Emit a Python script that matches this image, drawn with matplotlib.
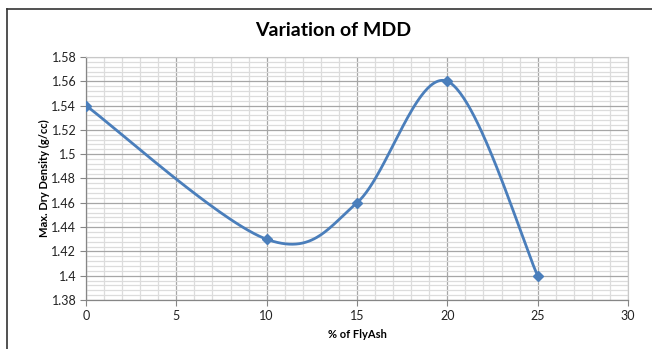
import numpy as np
import matplotlib
matplotlib.use('Agg')
import matplotlib.pyplot as plt
from matplotlib.lines import Line2D
from matplotlib.ticker import MultipleLocator

# data
fly_ash = [0, 10, 15, 20, 25]
mdd = [1.54, 1.43, 1.46, 1.56, 1.40]
x_ticks = [0, 5, 10, 15, 20, 25, 30]
y_ticks = [1.38, 1.40, 1.42, 1.44, 1.46, 1.48, 1.50, 1.52, 1.54, 1.56, 1.58]
y_tick_labels = ['1.38', '1.4', '1.42', '1.44', '1.46', '1.48', '1.5', '1.52', '1.54', '1.56', '1.58']

plt.rcParams['font.family'] = ['Lato', 'DejaVu Sans']


def smooth_line(xs, ys, n=60):
    # Excel-style smoothed line: Catmull-Rom segments as cubic Bezier
    pts = np.column_stack([xs, ys]).astype(float)
    ext = np.vstack([pts[0], pts, pts[-1]])
    out = []
    t = np.linspace(0, 1, n)[:, None]
    for i in range(1, len(ext) - 2):
        p0, p1, p2, p3 = ext[i - 1], ext[i], ext[i + 1], ext[i + 2]
        c1 = p1 + (p2 - p0) / 6
        c2 = p2 - (p3 - p1) / 6
        seg = ((1 - t) ** 3) * p1 + 3 * ((1 - t) ** 2) * t * c1 + 3 * (1 - t) * t ** 2 * c2 + t ** 3 * p2
        out.append(seg if i == 1 else seg[1:])
    out = np.vstack(out)
    return out[:, 0], out[:, 1]


fig = plt.figure(figsize=(6.52, 3.49), dpi=100)
ax = fig.add_axes([86 / 652, 1 - 300 / 349, (628 - 86) / 652, (300 - 57) / 349])

sx, sy = smooth_line(fly_ash, mdd)
ax.plot(sx, sy, color='#4A7EBB', linewidth=2, zorder=3)
ax.plot(fly_ash, mdd, linestyle='none', marker='D', markersize=5.5,
        color='#4A7EBB', zorder=4)

ax.set_xlim(0, 30)
ax.set_ylim(1.38, 1.58)
ax.set_xticks(x_ticks)
ax.set_yticks(y_ticks)
ax.set_yticklabels(y_tick_labels)
ax.xaxis.set_minor_locator(MultipleLocator(1))
ax.yaxis.set_minor_locator(MultipleLocator(0.004))

ax.grid(True, which='major', color='#a6a6a6', linewidth=0.9)
ax.grid(True, which='minor', color='#dcdcdc', linewidth=0.9)
ax.set_axisbelow(True)

for side in ['top', 'right']:
    ax.spines[side].set_color('#c8c8c8')
for side in ['left', 'bottom']:
    ax.spines[side].set_color('#868686')
    ax.spines[side].set_linewidth(0.9)

ax.tick_params(which='major', direction='out', length=4, color='#868686',
               labelsize=9, labelcolor='#222222', pad=3)
ax.tick_params(which='minor', length=0)

ax.set_xlabel('% of FlyAsh', fontsize=8, fontweight='bold', labelpad=5)
ax.set_ylabel('Max. Dry Density (g/cc)', fontsize=8, fontweight='bold', labelpad=1)

fig.text(333 / 652, 1 - 30 / 349, 'Variation of MDD', fontsize=14, fontweight='bold',
         ha='center', va='center')

# chart border (screenshot crop)
fig.add_artist(Line2D([7 / 652, 1], [1 - 9 / 349, 1 - 9 / 349], color='#333333', linewidth=1.2))
fig.add_artist(Line2D([7 / 652, 7 / 652], [0, 1 - 9 / 349], color='#333333', linewidth=1.2))

plt.savefig('out.png', dpi=100)
